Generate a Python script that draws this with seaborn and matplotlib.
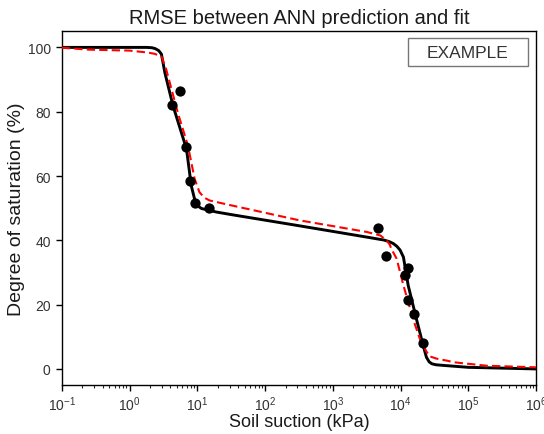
import numpy as np
import pandas as pd
import matplotlib
matplotlib.use("Agg")
import matplotlib.pyplot as plt
import seaborn as sns
from matplotlib.patches import Rectangle

# ---- data ----
meas_suction = [4.26, 5.46, 6.86, 7.67, 9.31, 14.6, 4630, 6030, 12600, 11600, 12900, 15800, 21400]
meas_sat = [82.1, 86.4, 69.0, 58.4, 51.5, 50.1, 43.8, 35.2, 31.4, 29.2, 21.4, 17.0, 8.2]

fit_log_suction = [-1.0, 0.0, 0.25, 0.33, 0.38, 0.43, 0.47, 0.52, 0.64, 0.84, 0.91, 0.97,
                   1.02, 1.06, 1.12, 1.18, 1.28, 1.50, 2.51, 3.50, 3.75, 3.83, 3.89,
                   3.94, 3.99, 4.04, 4.11, 4.23, 4.33, 4.38, 4.42, 4.46, 4.52, 4.63,
                   5.0, 6.0]
fit_sat = [100.0, 100.0, 100.0, 99.9, 99.6, 99.0, 97.9, 92.2, 81.9, 68.4, 57.0, 51.9,
           50.5, 49.9, 49.6, 49.3, 48.8, 48.0, 44.5, 41.0, 40.1, 39.6, 39.0,
           38.2, 37.0, 34.8, 26.0, 15.7, 7.4, 3.6, 2.2, 1.6, 1.3, 1.1,
           0.5, 0.0]

ann_log_suction = [-1.0, -0.6, 0.0, 0.27, 0.37, 0.47, 0.54, 0.71, 0.86, 0.96, 1.03, 1.10,
                   1.18, 1.43, 2.51, 3.50, 3.70, 3.79, 3.84, 3.86, 3.94, 4.04, 4.18,
                   4.28, 4.38, 4.43, 4.53, 4.70, 4.77, 5.27, 6.0]
ann_sat = [99.9, 99.3, 99.0, 98.4, 98.0, 97.2, 93.2, 79.8, 69.5, 59.1, 55.0, 53.3,
           52.4, 51.2, 46.2, 42.6, 41.5, 40.0, 38.6, 37.4, 34.3, 26.0, 15.7,
           9.5, 5.4, 3.9, 3.2, 2.5, 2.1, 1.0, 0.5]

x_ticks = [1e-1, 1e0, 1e1, 1e2, 1e3, 1e4, 1e5, 1e6]
y_ticks = [0, 20, 40, 60, 80, 100]

fit_df = pd.DataFrame({"suction": np.power(10.0, fit_log_suction), "sat": fit_sat})
ann_df = pd.DataFrame({"suction": np.power(10.0, ann_log_suction), "sat": ann_sat})
meas_df = pd.DataFrame({"suction": meas_suction, "sat": meas_sat})

sns.set_style("ticks")
plt.rcParams["font.family"] = ["Liberation Sans", "DejaVu Sans"]
plt.rcParams["mathtext.fontset"] = "custom"
plt.rcParams["mathtext.rm"] = "Liberation Sans"
plt.rcParams["mathtext.it"] = "Liberation Sans:italic"

fig = plt.figure(figsize=(5.44, 4.35), dpi=100)
ax = fig.add_axes([0.1136, 0.1126, 0.8722, 0.8131])

sns.lineplot(data=fit_df, x="suction", y="sat", ax=ax, color="black", lw=2.1,
             sort=False, estimator=None, zorder=3)
sns.lineplot(data=ann_df, x="suction", y="sat", ax=ax, color="red", lw=1.5,
             linestyle=(0, (4, 2)), sort=False, estimator=None, zorder=4)
sns.scatterplot(data=meas_df, x="suction", y="sat", ax=ax, color="black", s=55,
                edgecolor="black", linewidth=0, zorder=5)

ax.set_xscale("log")
ax.set_xlim(1e-1, 1e6)
ax.set_ylim(-5, 105)
ax.set_xticks(x_ticks)
ax.set_yticks(y_ticks)

for s in ax.spines.values():
    s.set_visible(True)
    s.set_color("black")
    s.set_linewidth(1.0)

ax.tick_params(axis="both", which="major", direction="out", length=4.5, width=1,
               labelsize=10, labelcolor="#333333", color="black")
ax.tick_params(axis="x", which="major", pad=2.5)
ax.tick_params(axis="x", which="minor", direction="out", length=2.2, width=0.8)
ax.tick_params(top=False, right=False)

ax.set_xlabel("Soil suction (kPa)", fontsize=13, color="#1a1a1a", labelpad=0)
ax.set_ylabel("Degree of saturation (%)", fontsize=14, color="#1a1a1a", labelpad=2)
ax.set_title("RMSE between ANN prediction and fit", fontsize=14.5, color="#1a1a1a", pad=6)

# "EXAMPLE" box
ax.add_patch(Rectangle((0.730, 0.9027), 0.2517, 0.0775, transform=ax.transAxes,
                       facecolor="white", edgecolor="#777777", lw=1.0, zorder=6))
ax.text(0.856, 0.9415, "EXAMPLE", transform=ax.transAxes, ha="center", va="center",
        fontsize=12.5, color="#333333", zorder=7)

fig.savefig("out.png", dpi=100)
